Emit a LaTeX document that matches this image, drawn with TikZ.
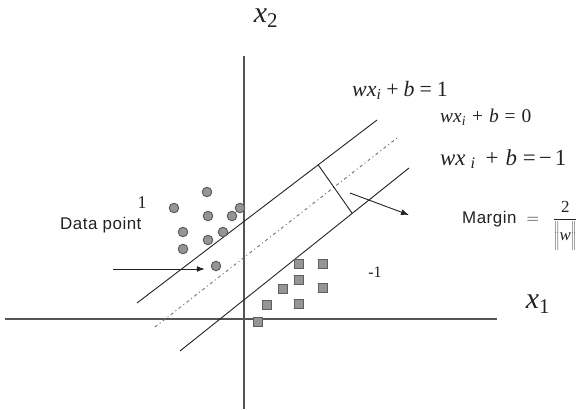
\documentclass[tikz,border=0pt]{standalone}
\usepackage{fontspec}
\setmainfont{Liberation Serif}
\setsansfont{Liberation Sans}
\newfontfamily\spacedsans[LetterSpace=3]{Liberation Sans}
\usetikzlibrary{arrows.meta,positioning,calc}
\definecolor{svmInk}{HTML}{222222}
\definecolor{svmAxis}{HTML}{555555}
\definecolor{svmFill}{HTML}{959595}
\definecolor{svmEdge}{HTML}{5E5E5E}
\definecolor{svmMid}{HTML}{707070}
% #1 gap, #2 right-hand side
\newcommand{\hypeq}[2]{\textit{wx}\textsubscript{\textit{i}}\hspace{#1}+\hspace{#1}\textit{b}\hspace{#1}=\hspace{#1}#2}
\tikzset{
  every picture/.style={text=svmInk},
  svm axis/.style={draw=svmAxis, line width=1.2bp},
  svm plane/.style={draw=svmInk, line width=0.9bp},
  svm mid/.style={draw=svmMid, line width=0.9bp,
    dash pattern=on 3bp off 3bp on 1bp off 3bp},
  svm arrow/.style={-{Latex[length=8bp,width=6bp]}, draw=svmInk,
    line width=0.9bp},
  svm dot/.style={circle, draw=svmEdge, fill=svmFill, line width=1bp,
    minimum size=9.5bp, inner sep=0pt},
  svm sq/.style={rectangle, draw=svmEdge, fill=svmFill, line width=1bp,
    minimum size=9bp, inner sep=0pt},
  svm eq/.style={font=\fontsize{22}{24}\selectfont, inner sep=0pt},
  svm axlabel/.style={font=\fontsize{30}{32}\selectfont, inner sep=0pt},
  svm sans/.style={font=\fontsize{17}{19}\selectfont\spacedsans, inner sep=0pt}
}
\begin{document}
\begin{tikzpicture}[x=1bp,y=-1bp]
  \useasboundingbox (0,0) rectangle (578,409);
  % axes
  \coordinate (xl) at (5,319);
  \coordinate (xr) at (497,319);
  \coordinate (yt) at (244,56);
  \coordinate (yb) at (244,409);
  \draw[svm axis] (xl) -- (xr);
  \draw[svm axis] (yt) -- (yb);
  \node[svm axlabel] (x2) at (266,18) {\textit{x}\textsubscript{2}};
  \node[svm axlabel] (x1) at (538,304) {\textit{x}\textsubscript{1}};
  % the three hyperplanes
  \coordinate (up1) at (137,303);
  \coordinate (up2) at (377,120);
  \coordinate (md1) at (155,327);
  \coordinate (md2) at (397,138);
  \coordinate (lo1) at (180,351);
  \coordinate (lo2) at (409,168);
  \draw[svm plane] (up1) -- (up2);
  \draw[svm mid] (md1) -- (md2);
  \draw[svm plane] (lo1) -- (lo2);
  \draw[svm plane] ($(up1)!0.755!(up2)$) -- ($(lo1)!0.752!(lo2)$);
  % class 1
  \foreach \px/\py [count=\k] in {207/192,174/208,208/216,232/216,240/208,
      183/232,223/232,208/240,183/249,216/266}
    \node[svm dot] (c\k) at (\px,\py) {};
  % class -1
  \foreach \px/\py [count=\k] in {299/264,323/264,299/280,283/289,323/288,
      267/305,299/304,258/322}
    \node[svm sq] (s\k) at (\px,\py) {};
  % labels
  \node[svm eq, anchor=west] (h1) at (352,90) {\hypeq{5bp}{1}};
  \node[svm eq, anchor=west, font=\fontsize{19.5}{21}\selectfont] (h0) at (440,117) {\hypeq{6bp}{0}};
  \node[svm eq, anchor=west, font=\fontsize{23}{25}\selectfont] (hm) at (440,159)
    {\textit{wx}\hspace{5bp}\textsubscript{\textit{i}}\hspace{10bp}+\hspace{7bp}\textit{b}\hspace{6bp}=\hspace{3bp}−\hspace{3bp}1};
  \node[inner sep=0pt, font=\fontsize{18}{19}\selectfont] (one) at (142,203) {1};
  \node[inner sep=0pt, font=\fontsize{16}{17}\selectfont] (mone) at (375,272) {-1};
  \node[svm sans, anchor=west] (dp) at (60,225) {Data point};
  \node[inner sep=0pt, anchor=west, font=\fontsize{17}{19}\selectfont] (mg) at (462,226)
    {{\spacedsans Margin}\hspace{10bp}$=$\hspace{14bp}$\displaystyle\frac{\mbox{2}}{\left\|\mbox{\textit{w}}\rule[-9bp]{0pt}{25bp}\right\|}$};
  % arrows
  \coordinate (dpa) at (113,269);
  \draw[svm arrow, shorten >=6bp] (dpa) -- (dpa -| c10.west);
  \coordinate (ma) at (350,193);
  \coordinate (mb) at (409,215);
  \draw[svm arrow] (ma) -- (mb);
\end{tikzpicture}
\end{document}
